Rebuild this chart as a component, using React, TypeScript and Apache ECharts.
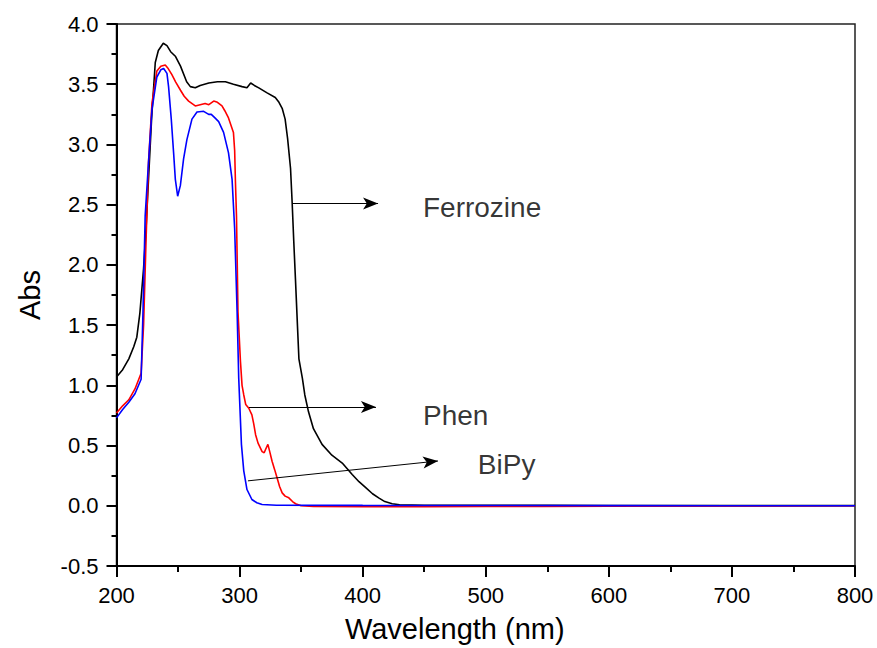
import React, { useEffect, useRef } from "react";
import * as echarts from "echarts";

// Wavelength (nm) and absorbance for each complex
const ferrozineNm = [200, 205, 210, 214, 216.5, 219, 222, 224, 226, 228.5, 231.5, 234, 238, 241, 244, 248, 252, 257, 260, 264, 268, 275, 282, 288.5, 295, 302, 306, 309, 312, 315.6, 322, 329, 332, 334.6, 337, 339, 341.4, 342.7, 344, 345.4, 347, 348.2, 351, 353, 356, 360, 367, 375, 383.4, 391.5, 397, 402.5, 408, 413, 418, 424, 430, 450, 500, 550, 600, 650, 700, 750, 800];
const ferrozineAbs = [1.07, 1.13, 1.22, 1.32, 1.4, 1.6, 1.97, 2.3, 2.71, 3.21, 3.68, 3.78, 3.84, 3.82, 3.77, 3.73, 3.65, 3.52, 3.48, 3.47, 3.49, 3.51, 3.52, 3.52, 3.5, 3.48, 3.47, 3.51, 3.49, 3.47, 3.43, 3.39, 3.35, 3.3, 3.21, 3.05, 2.8, 2.52, 2.2, 1.88, 1.5, 1.22, 1.06, 0.92, 0.78, 0.64, 0.51, 0.42, 0.355, 0.26, 0.2, 0.15, 0.1, 0.066, 0.035, 0.017, 0.008, 0.005, 0.003, 0.003, 0.002, 0.001, 0.001, 0.001, 0.001];

const phenNm = [200, 205, 210, 215, 220, 222, 224, 226, 228.8, 232.8, 236, 239.6, 242, 245, 248, 252, 255, 258.6, 264, 268, 272, 275, 279, 282, 285.7, 288, 291, 293, 295, 296, 296.6, 297.5, 298.7, 300.7, 302, 303.4, 305, 307.5, 310, 311.5, 313, 315, 318.3, 320, 321, 323, 324.5, 326.4, 328.5, 330.5, 332.5, 334.6, 337, 340, 343, 345.5, 350, 360, 400, 450, 500, 545, 600, 700, 800];
const phenAbs = [0.77, 0.83, 0.88, 0.97, 1.1, 1.5, 2.2, 2.85, 3.34, 3.61, 3.65, 3.66, 3.63, 3.58, 3.52, 3.45, 3.4, 3.36, 3.32, 3.33, 3.34, 3.33, 3.36, 3.35, 3.32, 3.28, 3.22, 3.16, 3.1, 2.95, 2.7, 2.4, 1.61, 1.2, 1.0, 0.92, 0.84, 0.81, 0.755, 0.68, 0.59, 0.52, 0.45, 0.44, 0.465, 0.51, 0.45, 0.37, 0.3, 0.23, 0.16, 0.107, 0.08, 0.066, 0.035, 0.017, 0.0, -0.005, -0.008, -0.008, -0.006, -0.005, -0.003, -0.001, 0.0];

const bipyNm = [200, 205, 210, 215, 220, 221.5, 223.3, 226, 228.8, 232.8, 236, 238.3, 241, 242.3, 244.5, 246.4, 247.8, 249.7, 251.9, 254.5, 257.2, 261.3, 265.4, 270.8, 274.9, 277, 280, 283, 287, 291, 293.9, 296, 298, 299.3, 301.5, 303.4, 306, 310, 314, 318.3, 330, 400, 500, 600, 700, 800];
const bipyAbs = [0.73, 0.8, 0.86, 0.93, 1.05, 1.6, 2.41, 2.85, 3.29, 3.56, 3.62, 3.63, 3.59, 3.48, 3.21, 2.93, 2.71, 2.57, 2.66, 2.88, 3.04, 3.21, 3.27, 3.275, 3.25, 3.25, 3.22, 3.19, 3.1, 2.93, 2.71, 2.3, 1.61, 1.06, 0.51, 0.29, 0.135, 0.052, 0.025, 0.011, 0.005, 0.003, 0.002, 0.001, 0.0, 0.0];

// Annotation arrows: [start wavelength, start abs, end wavelength, end abs]
const arrowFerrozine = [343.4, 2.51, 412.5, 2.51];
const arrowPhen = [307.7, 0.82, 410.8, 0.82];
const arrowBipy = [306.8, 0.207, 461.2, 0.372];

// Annotation labels: name, wavelength, abs
const labelNames = ["Ferrozine", "Phen", "BiPy"];
const labelNm = [449, 449, 493.6];
const labelAbs = [2.48, 0.752, 0.339];

const FONT = "Arial, 'Liberation Sans', sans-serif";

function pairs(xs: number[], ys: number[]) {
  return xs.map((x, i) => [x, ys[i]]);
}

function arrow(a: number[]) {
  return [{ coord: [a[0], a[1]] }, { coord: [a[2], a[3]] }];
}

export default function App() {
  const ref = useRef<HTMLDivElement>(null);

  useEffect(() => {
    if (!ref.current) return;
    const chart = echarts.init(ref.current, null, { renderer: "svg" });
    const lineBase = {
      type: "line",
      showSymbol: false,
      symbol: "none",
      smooth: false,
      z: 3,
    };
    const axisColor = "#000";
    chart.setOption({
      animation: false,
      backgroundColor: "#ffffff",
      grid: {
        left: 116.5,
        right: 22,
        top: 24,
        bottom: 79,
        show: true,
        borderColor: "#222",
        borderWidth: 1.5,
        backgroundColor: "transparent",
      },
      xAxis: {
        type: "value",
        min: 200,
        max: 800,
        interval: 100,
        name: "Wavelength (nm)",
        nameLocation: "middle",
        nameGap: 48,
        nameTextStyle: {
          fontFamily: FONT,
          fontSize: 29,
          color: "#000",
          padding: [0, 62, 0, 0],
        },
        axisLine: { show: true, onZero: false, lineStyle: { color: axisColor, width: 2 } },
        axisTick: { show: true, inside: false, length: 11, lineStyle: { color: axisColor, width: 2 } },
        minorTick: { show: true, splitNumber: 2, length: 6, lineStyle: { color: axisColor, width: 2 } },
        axisLabel: { fontFamily: FONT, fontSize: 22, color: "#000", margin: 18 },
        splitLine: { show: false },
      },
      yAxis: {
        type: "value",
        min: -0.5,
        max: 4,
        interval: 0.5,
        name: "Abs",
        nameLocation: "middle",
        nameGap: 72,
        nameRotate: 90,
        nameTextStyle: { fontFamily: FONT, fontSize: 29, color: "#000" },
        axisLine: { show: true, onZero: false, lineStyle: { color: axisColor, width: 2 } },
        axisTick: { show: true, inside: false, length: 10, lineStyle: { color: axisColor, width: 2 } },
        minorTick: { show: true, splitNumber: 2, length: 5, lineStyle: { color: axisColor, width: 2 } },
        axisLabel: {
          fontFamily: FONT,
          fontSize: 22,
          color: "#000",
          margin: 18,
          formatter: (v: number) => v.toFixed(1),
        },
        splitLine: { show: false },
      },
      series: [
        {
          ...lineBase,
          name: "Ferrozine",
          data: pairs(ferrozineNm, ferrozineAbs),
          lineStyle: { color: "#000000", width: 1.6 },
          markLine: {
            silent: true,
            symbol: ["none", "arrow"],
            symbolSize: [9, 15],
            label: { show: false },
            lineStyle: { color: "#000", width: 1, type: "solid" },
            data: [arrow(arrowFerrozine), arrow(arrowPhen), arrow(arrowBipy)],
          },
        },
        {
          ...lineBase,
          name: "Phen",
          data: pairs(phenNm, phenAbs),
          lineStyle: { color: "#ff0000", width: 1.6 },
        },
        {
          ...lineBase,
          name: "BiPy",
          data: pairs(bipyNm, bipyAbs),
          lineStyle: { color: "#0000ff", width: 1.6 },
        },
        {
          type: "scatter",
          name: "labels",
          symbolSize: 0,
          silent: true,
          data: labelNames.map((n, i) => ({ name: n, value: [labelNm[i], labelAbs[i]] })),
          label: {
            show: true,
            position: "right",
            distance: 0,
            formatter: (p: any) => p.name,
            fontFamily: FONT,
            fontSize: 28,
            color: "#000",
          },
        },
      ],
    });
    return () => chart.dispose();
  }, []);

  return (
    <div
      ref={ref}
      style={{ position: "absolute", left: 0, top: 0, width: 877, height: 648 }}
    />
  );
}
